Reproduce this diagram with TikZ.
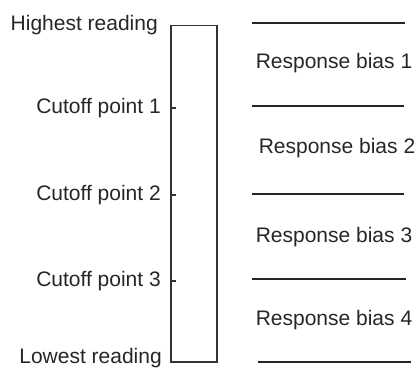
\documentclass[tikz,border=0pt]{standalone}
\usepackage{fontspec}
\setmainfont{Liberation Sans}
\begin{document}
\begin{tikzpicture}[x=1pt,y=-1pt,
  lbl/.style={font=\fontsize{21}{24}\selectfont, inner sep=0pt, text=black!85},
  frame/.style={draw=black!80, line width=1.5pt},
  sepline/.style={draw=black!85, line width=1.2pt}]
\useasboundingbox (0,0) rectangle (419,369);

% reading scale
\node[frame, minimum width=46pt, minimum height=336pt, inner sep=0pt,
      anchor=north west] (scale) at (170,25) {};

% cutoff ticks on the left side of the scale
\coordinate (t1) at (170,108);
\coordinate (t2) at (170,195);
\coordinate (t3) at (170,281);
\foreach \t in {t1,t2,t3}
  \draw[frame] (\t) -- ++(6,0);

% labels on the left
\node[lbl, anchor=east] (hi) at (158,25) {Highest reading};
\node[lbl, anchor=east] (c1) at (161,108) {Cutoff point 1};
\node[lbl, anchor=east] (c2) at (161,195) {Cutoff point 2};
\node[lbl, anchor=east] (c3) at (161,281) {Cutoff point 3};
\node[lbl, anchor=east] (lo) at (162,358) {Lowest reading};

% separators of the response bias bands
\coordinate (a0) at (252,23);  \coordinate (b0) at (405,23);
\coordinate (a1) at (252,106); \coordinate (b1) at (404,106);
\coordinate (a2) at (252,194); \coordinate (b2) at (404,194);
\coordinate (a3) at (252,279); \coordinate (b3) at (406,279);
\coordinate (a4) at (258,362); \coordinate (b4) at (411,362);
\foreach \i in {0,...,4}
  \draw[sepline] (a\i) -- (b\i);

% response bias bands
\node[lbl] (r1) at (334,63)  {Response bias 1};
\node[lbl] (r2) at (337,148) {Response bias 2};
\node[lbl] (r3) at (334,237) {Response bias 3};
\node[lbl] (r4) at (334,320) {Response bias 4};
\end{tikzpicture}
\end{document}
